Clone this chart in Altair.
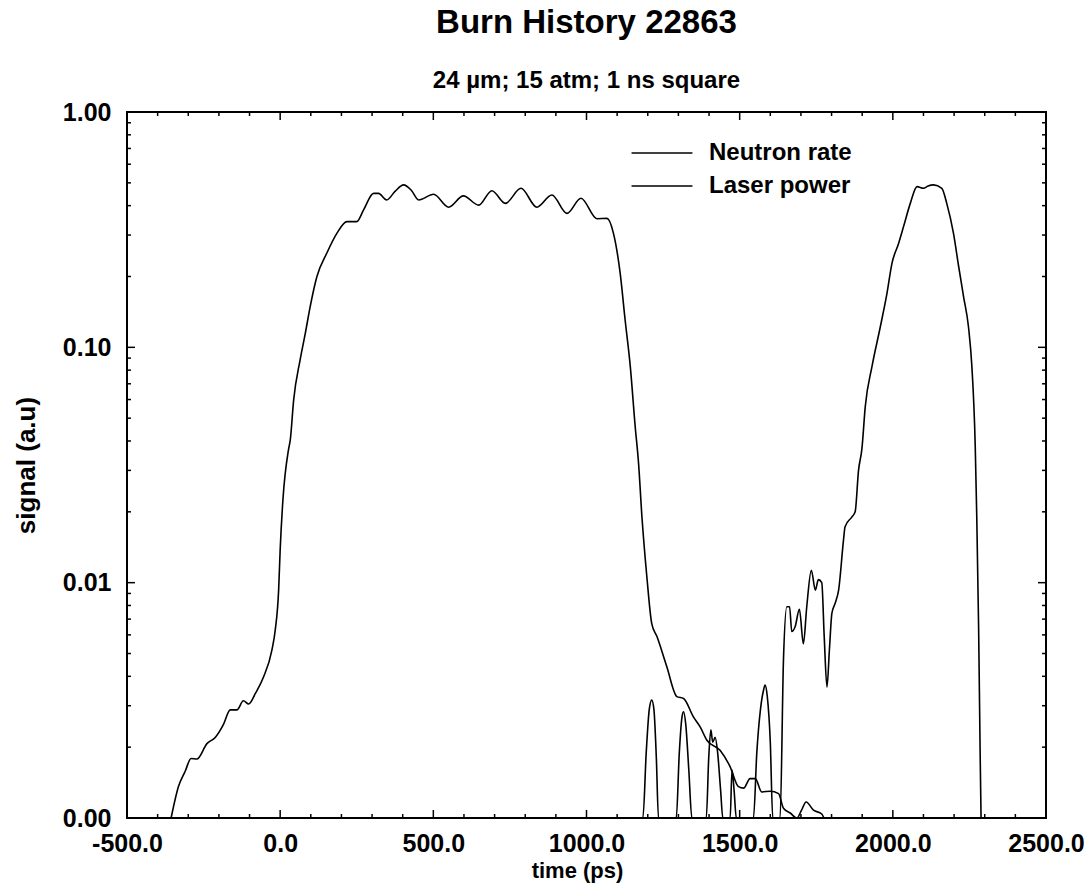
import altair as alt
import pandas as pd

# ---------------- data ----------------
laser_t = [-356, -332, -310, -291, -272, -239, -212, -185, -163, -141, -120, -103, -80, -54, -27, -16, -5, 0, 9, 27,
           33, 44, 65, 82, 98, 120, 152, 185, 218, 250, 272, 305, 321, 348, 375, 403, 428, 452, 501, 550, 598, 648,
           691, 735, 786, 838, 887, 936, 982, 1034, 1067, 1088, 1110, 1126, 1143, 1159, 1170, 1181, 1197, 1213, 1230,
           1262, 1295, 1317, 1349, 1371, 1393, 1436, 1469, 1496, 1513, 1534, 1551, 1572, 1600, 1627, 1643, 1665, 1687,
           1702, 1717, 1741, 1768, 1775]
laser_v = [0.001, 0.00136, 0.00158, 0.00179, 0.00178, 0.00207, 0.0022, 0.0025, 0.00288, 0.00288, 0.00315, 0.00305,
           0.0034, 0.00398, 0.00517, 0.0063, 0.0093, 0.0138, 0.0225, 0.0366, 0.0404, 0.0597, 0.0883, 0.1146, 0.149,
           0.2, 0.251, 0.305, 0.342, 0.342, 0.383, 0.451, 0.451, 0.423, 0.46, 0.49, 0.465, 0.423, 0.447, 0.394, 0.44,
           0.402, 0.463, 0.409, 0.474, 0.394, 0.444, 0.371, 0.43, 0.352, 0.353, 0.305, 0.206, 0.131, 0.0828, 0.046,
           0.0321, 0.019, 0.0106, 0.0067, 0.0059, 0.0044, 0.00328, 0.00322, 0.00269, 0.00244, 0.00214, 0.00194,
           0.00165, 0.00136, 0.00134, 0.00147, 0.00147, 0.00129, 0.0013, 0.00127, 0.0011, 0.00105, 0.001, 0.00108,
           0.00117, 0.00108, 0.00104, 0.001]

neutron_t = [-350, 1184, 1195, 1205, 1213, 1220, 1228, 1235,
             1293, 1303, 1312, 1317, 1324, 1334, 1344,
             1391, 1399, 1406, 1412, 1420, 1428, 1438, 1445,
             1469, 1475, 1482, 1489,
             1545, 1556, 1568, 1578, 1583, 1590, 1600, 1608,
             1632, 1643, 1654, 1663, 1670, 1681, 1695, 1708, 1719, 1734, 1747, 1757, 1768, 1776, 1785, 1793, 1801,
             1812, 1823, 1839, 1844, 1866, 1877, 1888, 1899, 1910, 1932, 1959, 1981, 1997, 2019, 2035, 2057, 2079,
             2100, 2115, 2133, 2160, 2176, 2198, 2215, 2231, 2247, 2258, 2269, 2274, 2280, 2285, 2288]
neutron_v = [0.001, 0.001, 0.0019, 0.0029, 0.00317, 0.0029, 0.0018, 0.001,
             0.001, 0.0019, 0.0027, 0.00283, 0.0025, 0.0016, 0.001,
             0.001, 0.0018, 0.00237, 0.0021, 0.0022, 0.0019, 0.0013, 0.001,
             0.001, 0.0016, 0.0013, 0.001,
             0.001, 0.0019, 0.0029, 0.0035, 0.00367, 0.0033, 0.0021, 0.001,
             0.001, 0.0047, 0.0079, 0.0079, 0.0062, 0.0065, 0.0077, 0.0055, 0.0079, 0.0113, 0.0093, 0.0103, 0.01,
             0.0059, 0.0036, 0.0052, 0.0074, 0.0082, 0.0093, 0.0152, 0.0173, 0.019, 0.02, 0.03, 0.037, 0.056, 0.083,
             0.122, 0.17, 0.227, 0.277, 0.326, 0.409, 0.482, 0.474, 0.485, 0.49, 0.474, 0.409, 0.305, 0.22, 0.164,
             0.122, 0.083, 0.038, 0.019, 0.0065, 0.0019, 0.001]

series_names = ["Neutron rate", "Laser power"]

x_major = [-500, 0, 500, 1000, 1500, 2000, 2500]
x_minor = [v for v in range(-400, 2500, 100) if v % 500 != 0]
y_major = [0.001, 0.01, 0.1, 1.0]
y_minor = [m * d for d in (0.001, 0.01, 0.1) for m in range(2, 10)]

# ---------------- tables ----------------
lines = pd.concat([
    pd.DataFrame({"time": neutron_t, "signal": neutron_v, "series": series_names[0]}),
    pd.DataFrame({"time": laser_t, "signal": laser_v, "series": series_names[1]}),
])
xmaj = pd.DataFrame({"time": x_major})
xmin = pd.DataFrame({"time": x_minor})
ymaj = pd.DataFrame({"signal": y_major})
ymin = pd.DataFrame({"signal": y_minor})

W, H = 919, 706
FONT = "Liberation Sans"

xscale = alt.Scale(domain=[-500, 2500], nice=False, zero=False)
yscale = alt.Scale(type="log", domain=[0.001, 1.0], nice=False)

xaxis = alt.Axis(values=x_major, ticks=False, domain=False, grid=False,
                 labelExpr="datum.value < 0 ? '-' + format(-datum.value, '.1f') : format(datum.value, '.1f')",
                 labelFontSize=25, labelFont=FONT, labelFontWeight="bold", labelColor="black",
                 labelPadding=13, labelOverlap=False, labelFlush=False,
                 titleFontSize=22, titleFont=FONT, titleFontWeight="bold", titleColor="black",
                 titlePadding=4, titleX=450)
yaxis = alt.Axis(values=y_major, format=".2f", ticks=False, domain=False, grid=False,
                 labelFontSize=25, labelFont=FONT, labelFontWeight="bold", labelColor="black",
                 labelPadding=16, labelOverlap=False, labelFlush=False,
                 titleFontSize=26, titleFont=FONT, titleFontWeight="bold", titleColor="black",
                 titlePadding=23)

X = lambda: alt.X("time:Q", scale=xscale, title="time (ps)", axis=xaxis)
Y = lambda: alt.Y("signal:Q", scale=yscale, title="signal (a.u)", axis=yaxis)

line_layer = alt.Chart(lines).mark_line(strokeWidth=1.6, interpolate="monotone").encode(
    x=X(),
    y=Y(),
    color=alt.Color("series:N", scale=alt.Scale(domain=series_names, range=["black", "black"]),
                    sort=series_names,
                    legend=alt.Legend(title=None, orient="none", legendX=523, legendY=29,
                                      symbolType="M-4,0H4", symbolSize=232, symbolStrokeWidth=1.3,
                                      symbolStrokeColor="black", symbolFillColor="transparent",
                                      labelFontSize=24, labelFont=FONT, labelFontWeight="bold",
                                      labelColor="black", labelOffset=35, rowPadding=9, padding=0)),
    detail="series:N",
)

def xrule(df, y0, y1):
    return alt.Chart(df).mark_rule(color="black", strokeWidth=1.5).encode(
        x=X(), y=alt.value(y0), y2=alt.value(y1))

def yrule(df, x0, x1):
    return alt.Chart(df).mark_rule(color="black", strokeWidth=1.5).encode(
        y=Y(), x=alt.value(x0), x2=alt.value(x1))

ticks = [
    xrule(xmaj, H, H - 8), xrule(xmaj, 0, 8),
    xrule(xmin, H, H - 4), xrule(xmin, 0, 4),
    yrule(ymaj, 0, 8), yrule(ymaj, W, W - 8),
    yrule(ymin, 0, 4), yrule(ymin, W, W - 4),
]

chart = alt.layer(line_layer, *ticks).properties(
    width=W, height=H,
    title=alt.TitleParams(text="Burn History 22863", subtitle="24 \u00b5m; 15 atm; 1 ns square",
                          font=FONT, fontSize=33, fontWeight="bold", color="black",
                          subtitleFont=FONT, subtitleFontSize=24, subtitleFontWeight="bold",
                          subtitleColor="black", subtitlePadding=29, offset=7, anchor="middle"),
    autosize=alt.AutoSizeParams(type="none"),
    padding={"left": 127, "top": 112, "right": 43, "bottom": 74},
    background="white",
).configure_view(stroke="black", strokeWidth=2)

chart.save("out.html", embed_options={"renderer": "svg", "actions": False})
